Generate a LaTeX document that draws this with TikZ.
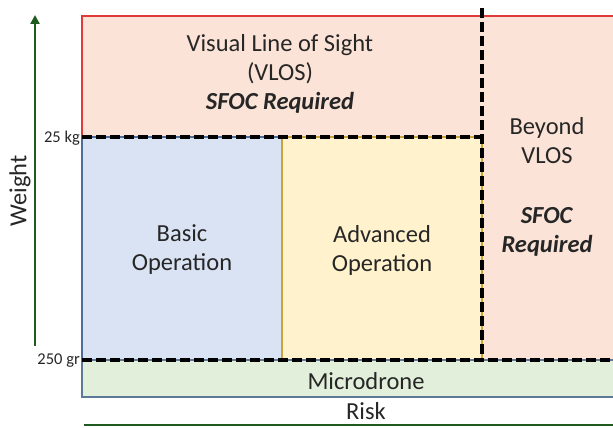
\documentclass[tikz,border=0pt]{standalone}
\usepackage{fontspec}
\setmainfont{Carlito}
\usetikzlibrary{arrows.meta}
\definecolor{vlosfill}{HTML}{FBE4D7}
\definecolor{vlosline}{HTML}{E0393A}
\definecolor{basicfill}{HTML}{DAE3F3}
\definecolor{basicline}{HTML}{4F6D9A}
\definecolor{advfill}{HTML}{FFF2CC}
\definecolor{advline}{HTML}{C8A43A}
\definecolor{microfill}{HTML}{E2EFDA}
\definecolor{microline}{HTML}{5E7898}
\definecolor{axisgreen}{HTML}{1F5A1F}
\tikzset{
  zone/.style={draw, line width=1.5pt, inner sep=0pt, outer sep=0pt},
  limit/.style={black, line width=3.6pt, dash pattern=on 10pt off 4pt},
  lbl/.style={font=\fontsize{24.5}{29}\selectfont, align=center, text=black!85},
  tick/.style={font=\fontsize{16.5}{18}\selectfont, anchor=east, inner sep=1pt, text=black!85},
  axis/.style={axisgreen, line width=2.6pt}
}
\begin{document}
\begin{tikzpicture}[x=1pt, y=-1pt]
\useasboundingbox (0,0) rectangle (613,428);
% regions
\path[zone, fill=vlosfill, draw=vlosline] (82,16) rectangle (620,360);
\path[zone, fill=basicfill, draw=basicline] (82,137) rectangle (282,360);
\path[zone, fill=advfill, draw=advline] (282,137) rectangle (482,360);
\path[zone, fill=microfill, draw=microline] (82,360) rectangle (620,397);
% weight limits
\coordinate (k25l) at (82,137);
\coordinate (k25r) at (482,137);
\coordinate (vtop) at (482,8);
\coordinate (vbot) at (482,360);
\coordinate (g250l) at (82,360);
\coordinate (g250r) at (613,360);
\draw[limit] (k25l) -- (k25r);
\draw[limit] (vtop) -- (vbot);
\draw[limit] (g250l) -- (g250r);
% labels
\node[lbl] (vlos) at (280,74) {Visual Line of Sight\\(VLOS)\\\textbf{\textit{SFOC Required}}};
\node[lbl] (basic) at (182,250) {Basic\\Operation};
\node[lbl] (adv) at (382,250) {Advanced\\Operation};
\node[lbl] (bvlos) at (547,141) {Beyond\\VLOS};
\node[lbl] (bsfoc) at (547,232) {\textbf{\textit{SFOC}}\\\textbf{\textit{Required}}};
\node[lbl] (micro) at (366,381) {Microdrone};
\node[tick] (t25) at (81,138) {25 kg};
\node[tick] (t250) at (81,361) {250 gr};
% axes
\coordinate (wbot) at (35,346);
\coordinate (wtop) at (35,15);
\draw[axis, -{Triangle[length=9pt, width=9pt]}] (wbot) -- (wtop);
\node[lbl, rotate=90] (weight) at (20,191) {Weight};
\coordinate (rl) at (84,425);
\coordinate (rr) at (613,425);
\draw[axis] (rl) -- (rr);
\node[lbl] (risk) at (366,411) {Risk};
\end{tikzpicture}
\end{document}
